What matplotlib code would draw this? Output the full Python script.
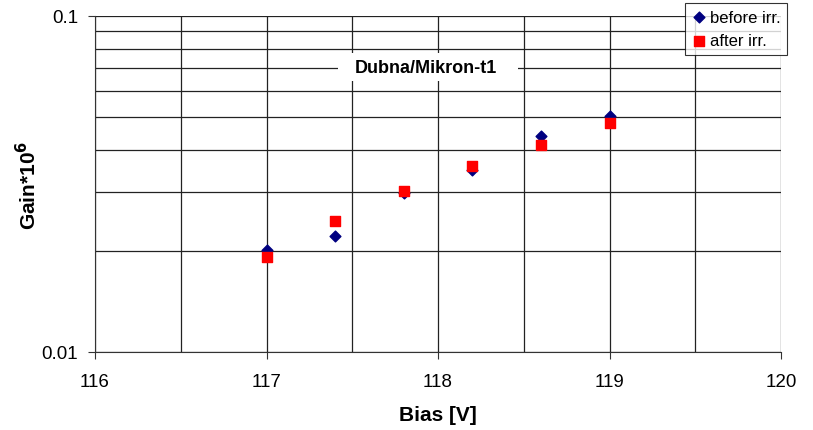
import matplotlib.pyplot as plt
from matplotlib.patches import Rectangle
from matplotlib.ticker import FixedLocator, NullFormatter

plt.rcParams['font.family'] = ['Liberation Sans', 'DejaVu Sans']

bias = [117.0, 117.4, 117.8, 118.2, 118.6, 119.0]
gain_before = [0.0201, 0.0222, 0.0298, 0.0347, 0.0438, 0.0503]
gain_after = [0.0192, 0.0246, 0.0302, 0.0357, 0.0412, 0.0479]

x_ticks = [116, 117, 118, 119, 120]
x_minor = [116.5, 117.5, 118.5, 119.5]
y_ticks = [0.01, 0.1]
y_tick_labels = ['0.01', '0.1']

fig = plt.figure(figsize=(8.13, 4.31), dpi=100)
ax = fig.add_axes([0.1169, 0.181, 0.8438, 0.7796])

ax.set_yscale('log')
ax.set_xlim(116, 120)
ax.set_ylim(0.01, 0.1)

ax.set_xticks(x_ticks)
ax.set_xticklabels([str(t) for t in x_ticks], fontsize=13.5)
ax.xaxis.set_minor_locator(FixedLocator(x_minor))
ax.set_yticks(y_ticks)
ax.set_yticklabels(y_tick_labels, fontsize=13.5)
ax.yaxis.set_minor_locator(FixedLocator([i / 100 for i in range(2, 10)]))
ax.yaxis.set_minor_formatter(NullFormatter())
ax.tick_params(which='major', direction='out', length=5, width=0.8, color='#333333')
ax.tick_params(axis='x', which='major', pad=10)
ax.tick_params(axis='y', which='major', pad=7)
ax.tick_params(which='minor', length=0)

ax.grid(which='both', color='#222222', linewidth=0.9)
ax.set_axisbelow(True)
for side in ['top', 'right']:
    ax.spines[side].set_visible(False)
for side in ['left', 'bottom']:
    ax.spines[side].set_color('#333333')

ax.scatter(bias, gain_before, marker='D', s=30, color='#000080', label='before irr.', zorder=3)
ax.scatter(bias, gain_after, marker='s', s=48, color='#ff0000', label='after irr.', zorder=4)

ax.set_xlabel('Bias [V]', fontsize=15, fontweight='bold', labelpad=11)
ax.set_ylabel('Gain*10$^\\mathbf{6}$', fontsize=15, fontweight='bold', labelpad=1)

# white patch behind the chart title, hiding the grid
ax.add_patch(Rectangle((0.3535, 0.806), 0.2624, 0.0836, transform=ax.transAxes,
                       facecolor='white', edgecolor='none', zorder=2))
ax.text(0.4825, 0.848, 'Dubna/Mikron-t1', transform=ax.transAxes, ha='center',
        va='center', fontsize=13, fontweight='bold', zorder=5)

leg = fig.legend(loc='upper right', bbox_to_anchor=(0.968, 0.991), fontsize=12,
                 frameon=True, fancybox=False, edgecolor='black', handletextpad=0.2,
                 handlelength=0.9, borderpad=0.4, labelspacing=0.5, borderaxespad=0)
leg.get_frame().set_linewidth(0.8)

fig.savefig('out.png', dpi=100)
